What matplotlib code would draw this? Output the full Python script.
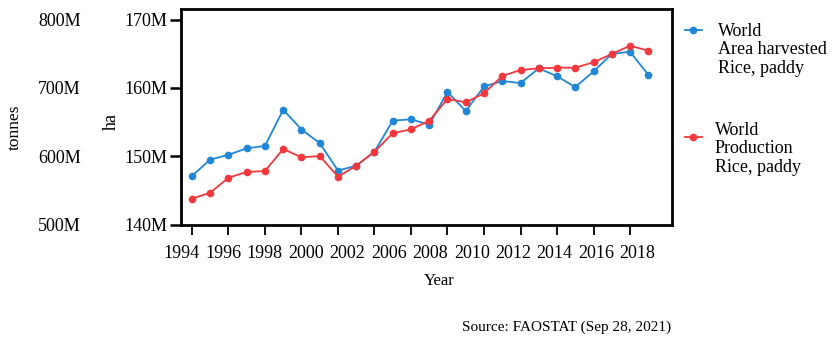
import matplotlib.pyplot as plt
from matplotlib.lines import Line2D

# Werte, Fläche in Mio. ha, Produktion in Mio. t
years = [1994, 1995, 1996, 1997, 1998, 1999, 2000, 2001, 2002, 2003, 2004, 2005, 2006,
         2007, 2008, 2009, 2010, 2011, 2012, 2013, 2014, 2015, 2016, 2017, 2018, 2019]
area_ha = [147.1, 149.5, 150.2, 151.15, 151.5, 156.8, 153.9, 151.9, 147.9, 148.6, 150.65,
           155.2, 155.4, 154.6, 159.4, 156.6, 160.2, 161.0, 160.7, 162.85, 161.7, 160.1,
           162.4, 164.95, 165.3, 161.9]
production_t = [537.8, 546.5, 568.5, 576.8, 578.3, 610.5, 598.3, 600.2, 570.0, 586.0, 606.5,
                633.5, 639.3, 651.9, 683.7, 678.8, 692.0, 717.3, 726.1, 728.6, 729.5, 729.5,
                737.4, 749.5, 761.7, 754.4]
tick_years = [1994, 1996, 1998, 2000, 2002, 2004, 2006, 2008, 2010, 2012, 2014, 2016, 2018]
year_labels = ['1994', '1996', '1998', '2000', '2002', '2006', '2008', '2010', '2012',
               '2014', '2016', '2018']
ha_ticks = [140, 150, 160, 170]
t_ticks = [500, 600, 700, 800]

blue = '#1f87d6'
red = '#f2383c'

plt.rcParams['font.family'] = ['Liberation Serif', 'DejaVu Serif']
plt.rcParams['font.size'] = 13

fig = plt.figure(figsize=(8.37, 3.39), dpi=100)
ax = fig.add_axes([181 / 837, 1 - 224.5 / 339, (672 - 181) / 837, (224.5 - 9) / 339])

# Fläche (ha) auf der inneren Achse
ax.plot(years, area_ha, color=blue, marker='o', markersize=4.5, linewidth=1.3)
ax.set_xlim(1993.4, 2020.3)
ax.set_ylim(140, 171.54)
ax.set_yticks(ha_ticks, [f'{v}M' for v in ha_ticks])
ax.set_xticks(tick_years, [''] * len(tick_years))
ax.tick_params(axis='y', length=8, width=1.8, pad=2)
ax.tick_params(axis='x', length=7, width=1.3)
for s in ax.spines.values():
    s.set_linewidth(2)
ax.set_ylabel('ha', fontsize=13)
ax.yaxis.set_label_coords(-0.124, 0.476)
ax.set_xlabel('Year', fontsize=12)
ax.xaxis.set_label_coords(0.525, -0.225)

# Jahreszahlen gleichmäßig verteilt wie im Original
sec = ax.secondary_xaxis('bottom')
n = len(year_labels)
sec.set_xticks([1993.45 + i * (2018.4 - 1993.45) / (n - 1) for i in range(n)], year_labels)
sec.tick_params(length=0, pad=15)
sec.spines['bottom'].set_visible(False)

# Produktion (tonnes) auf der äußeren Achse
ax2 = ax.twinx()
ax2.plot(years, production_t, color=red, marker='o', markersize=4.5, linewidth=1.3)
ax2.set_ylim(500, 815.4)
ax2.yaxis.tick_left()
ax2.yaxis.set_label_position('left')
ax2.set_yticks(t_ticks, [f'{v}M' for v in t_ticks])
ax2.tick_params(axis='y', length=0, pad=72)
for s in ax2.spines.values():
    s.set_visible(False)
ax2.set_ylabel('tonnes', fontsize=12.5)
ax2.yaxis.set_label_coords(-0.322, 0.45)

# Legende rechts daneben
for (y_h, y_t, x_t, col, txt) in [
        (30, 23, 718, blue, 'World\nArea harvested\nRice, paddy'),
        (137, 122, 715, red, 'World\nProduction\nRice, paddy')]:
    fig.add_artist(Line2D([685 / 837, 693.5 / 837, 702 / 837], [1 - y_h / 339] * 3,
                          color=col, linewidth=1.3, marker='o', markersize=4.5,
                          markevery=[1], transform=fig.transFigure))
    fig.text(x_t / 837, 1 - y_t / 339, txt, ha='left', va='top', fontsize=13, linespacing=1.1)

fig.text(671 / 837, 1 - 327 / 339, 'Source: FAOSTAT (Sep 28, 2021)', ha='right',
         va='center', fontsize=11)

plt.savefig('out.png', dpi=100)
